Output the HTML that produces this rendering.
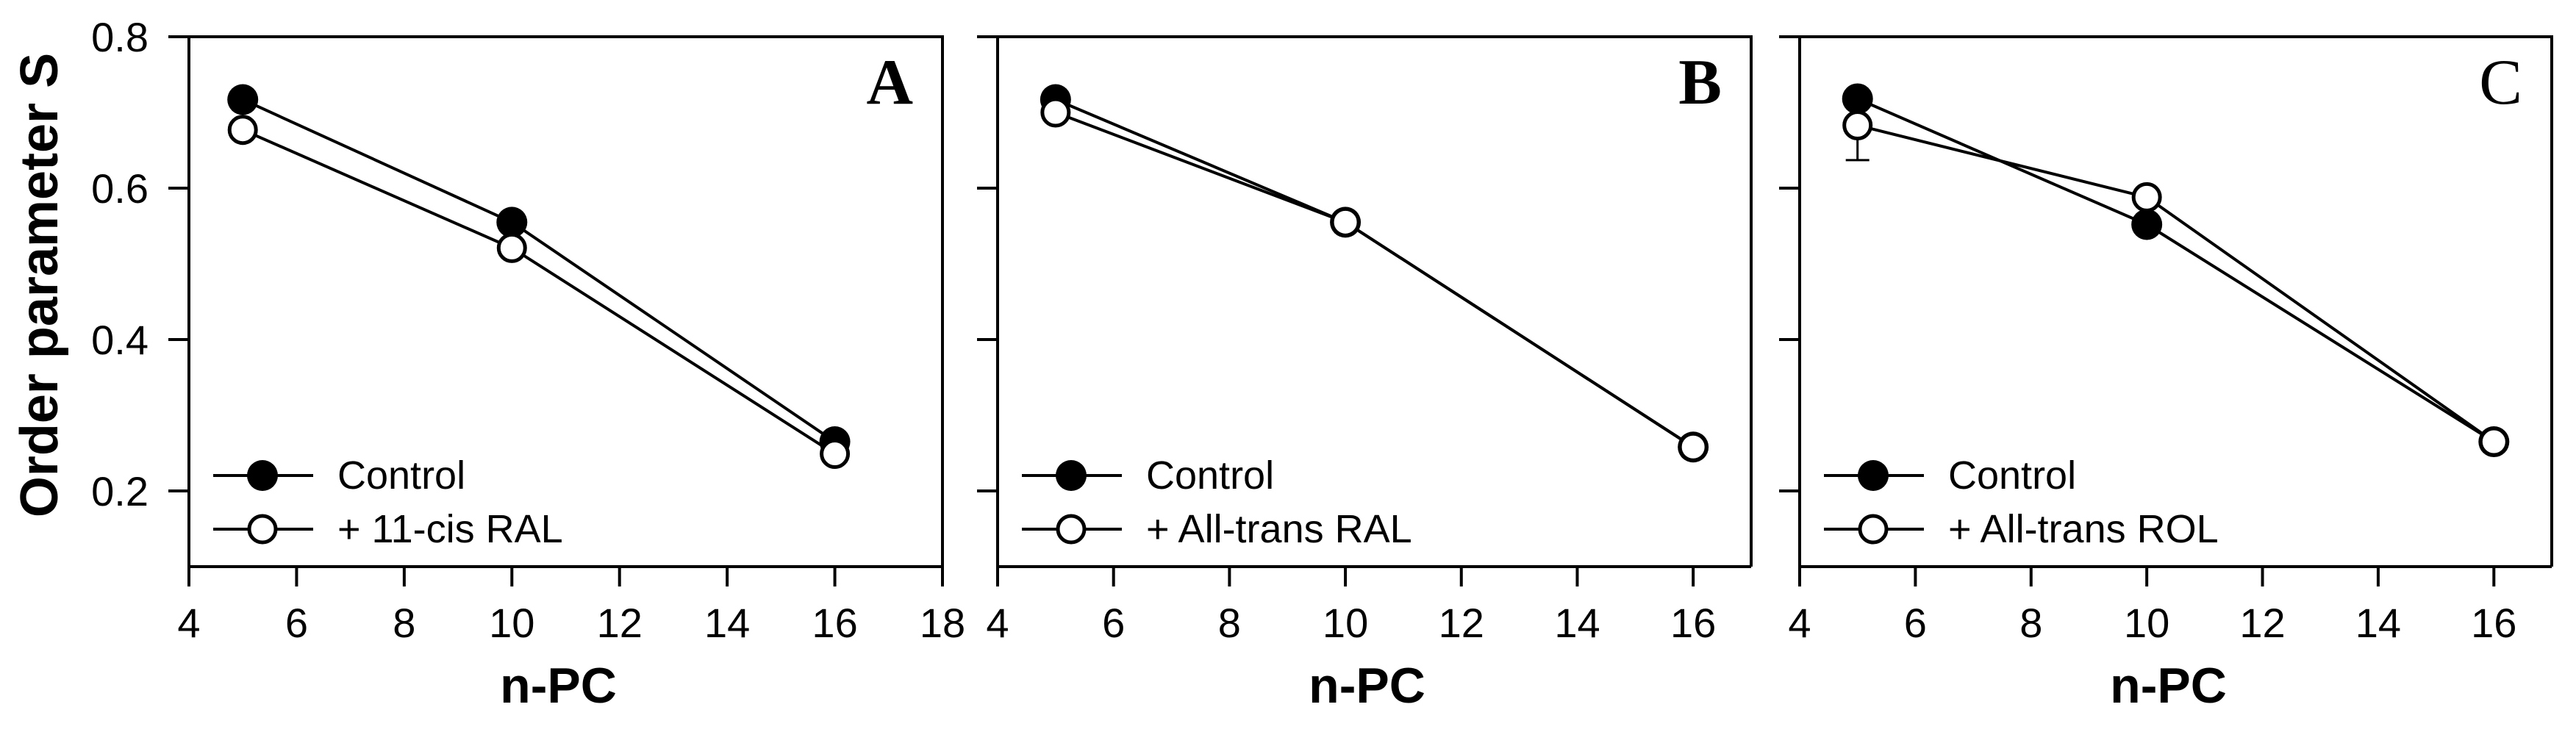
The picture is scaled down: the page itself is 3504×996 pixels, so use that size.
<!DOCTYPE html>
<html><head><meta charset="utf-8"><style>
html,body{margin:0;padding:0;background:#fff;}
svg{display:block;font-family:"Liberation Sans",sans-serif;}
</style></head><body>
<svg id="chart" width="3504" height="996" viewBox="0 0 3504 996" xmlns="http://www.w3.org/2000/svg">
<text x="0" y="0" transform="translate(78,388) rotate(-90)" text-anchor="middle" font-size="72" font-weight="bold">Order parameter S</text>
</svg>
<script>
const xCats = [5, 10, 16];
const ctrlA = [0.717, 0.555, 0.265];
const treatA = [0.677, 0.521, 0.249];
const ctrlB = [0.717, 0.555, 0.258];
const treatB = [0.700, 0.555, 0.258];
const ctrlC = [0.718, 0.552, 0.265];
const treatC = [0.683, 0.588, 0.265];
const errC = [0.046, 0, 0];
const yTicks = [0.2, 0.4, 0.6, 0.8];
const xTicksA = [4, 6, 8, 10, 12, 14, 16, 18];
const xTicksBC = [4, 6, 8, 10, 12, 14, 16];
const legendLabels = ["+ 11-cis RAL", "+ All-trans RAL", "+ All-trans ROL"];
const panelLetters = ["A", "B", "C"];

const NS = "http://www.w3.org/2000/svg";
const svg = document.getElementById('chart');
function mk(tag, attrs, parent){
  const e = document.createElementNS(NS, tag);
  for (const k in attrs) e.setAttribute(k, attrs[k]);
  (parent||svg).appendChild(e);
  return e;
}
const TOP = 50, BOT = 771, YMIN = 0.1, YMAX = 0.8;
function yS(v){ return BOT - (v - YMIN) / (YMAX - YMIN) * (BOT - TOP); }

const panels = [
  {l:257, r:1282, xmax:18, ticks:xTicksA, ctrl:ctrlA, treat:treatA, err:null, labels:true},
  {l:1357, r:2382, xmax:17, ticks:xTicksBC, ctrl:ctrlB, treat:treatB, err:null, labels:false},
  {l:2448, r:3471, xmax:17, ticks:xTicksBC, ctrl:ctrlC, treat:treatC, err:errC, labels:false}
];

panels.forEach((p, i) => {
  const xS = v => p.l + (v - 4) / (p.xmax - 4) * (p.r - p.l);
  const g = mk('g', {});
  
  
  // frame
  const fr = mk('path', {d:`M${p.l-28},${TOP} H${p.r} V${BOT} M${p.l},${TOP} V${BOT} H${p.r}`, fill:'none', stroke:'#000', 'stroke-width':4}, g);
  
  
  // y ticks
  yTicks.forEach(t => {
    const tk = mk('line', {x1:p.l-28, x2:p.l, y1:yS(t), y2:yS(t), stroke:'#000', 'stroke-width':4}, g);
    
    
    if (p.labels) {
      const tl = mk('text', {x:p.l-55, y:yS(t)+20, 'text-anchor':'end', 'font-size':56}, g);
      
      
      tl.textContent = t.toFixed(1);
    }
  });
  // x ticks
  p.ticks.forEach(t => {
    const tk = mk('line', {x1:xS(t), x2:xS(t), y1:BOT, y2:BOT+27, stroke:'#000', 'stroke-width':4}, g);
    
    
    const tl = mk('text', {x:xS(t), y:867, 'text-anchor':'middle', 'font-size':56}, g);
    
    
    tl.textContent = t;
  });
  // x title
  const xt = mk('text', {x:(p.l+p.r)/2 - 10, y:956, 'text-anchor':'middle', 'font-size':68, 'font-weight':'bold'}, g);
  
  
  xt.textContent = 'n-PC';
  // panel letter
  const pl = mk('text', {x:p.r - 40, y:141, 'text-anchor':'end', 'font-size':88, 'font-weight': i===2 ? 'normal' : 'bold', 'font-family':'"Liberation Serif", serif'}, g);
  
  
  pl.textContent = panelLetters[i];
  // error bars
  if (p.err) {
    xCats.forEach((c, j) => {
      if (p.err[j] > 0) {
        const eb = mk('path', {d:`M${xS(c)},${yS(p.treat[j])} V${yS(p.treat[j]-p.err[j])} M${xS(c)-16},${yS(p.treat[j]-p.err[j])} H${xS(c)+16}`, stroke:'#000', 'stroke-width':3, fill:'none'}, g);
        
        
      }
    });
  }
  // lines
  [[p.ctrl,'control'],[p.treat,'treatment']].forEach(([s,nm]) => {
    const ln = mk('polyline', {points:xCats.map((c,j)=>xS(c)+','+yS(s[j])).join(' '), fill:'none', stroke:'#000', 'stroke-width':4}, g);
    
    
  });
  // markers
  xCats.forEach((c, j) => {
    const m1 = mk('circle', {cx:xS(c), cy:yS(p.ctrl[j]), r:21, fill:'#000'}, g);
    
    
  });
  xCats.forEach((c, j) => {
    const m2 = mk('circle', {cx:xS(c), cy:yS(p.treat[j]), r:18, fill:'#fff', stroke:'#000', 'stroke-width':5}, g);
    
    
  });
  // legend
  const lx = p.l + 33, ly1 = 647, ly2 = 720;
  const lg = mk('g', {}, g);
  
  
  mk('line', {x1:lx, x2:lx+136, y1:ly1, y2:ly1, stroke:'#000', 'stroke-width':4}, lg);
  mk('circle', {cx:lx+67, cy:ly1, r:21, fill:'#000'}, lg);
  mk('line', {x1:lx, x2:lx+136, y1:ly2, y2:ly2, stroke:'#000', 'stroke-width':4}, lg);
  mk('circle', {cx:lx+67, cy:ly2, r:18, fill:'#fff', stroke:'#000', 'stroke-width':5}, lg);
  const t1 = mk('text', {x:lx+169, y:ly1+18, 'font-size':54}, lg);
  
  
  t1.textContent = 'Control';
  const t2 = mk('text', {x:lx+169, y:ly2+18, 'font-size':54}, lg);
  
  
  t2.textContent = legendLabels[i];
});
</script>
</body></html>
